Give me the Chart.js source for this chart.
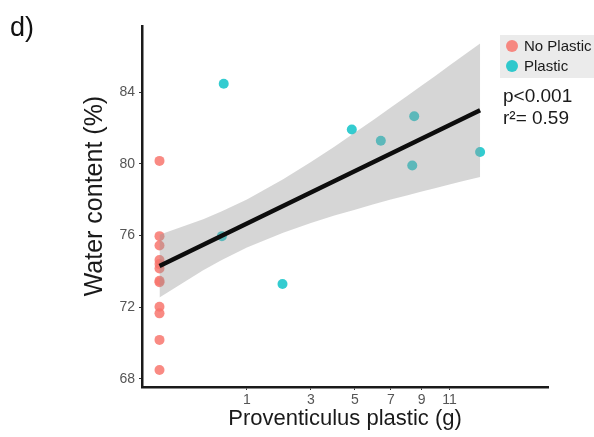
<!DOCTYPE html>
<html><head><meta charset="utf-8">
<script src="https://cdn.jsdelivr.net/npm/chart.js@4.4.0/dist/chart.umd.min.js"></script>
<style>html,body{margin:0;padding:0;background:#fff}canvas{display:block}</style>
</head><body>
<canvas id="c" width="594" height="437"></canvas>
<script>
// ---- data ----
const panelLabel = 'd)';
const seriesNames = ['No Plastic', 'Plastic'];
const noPlasticX = [0, 0, 0, 0, 0, 0, 0, 0, 0, 0, 0, 0];
const noPlasticY = [80.17, 75.97, 75.45, 74.64, 74.41, 74.17, 73.48, 73.40, 72.03, 71.66, 70.18, 68.50];
const plasticX = [0.54, 0.51, 1.98, 4.84, 6.41, 8.49, 8.36, 13.45];
const plasticY = [84.48, 75.97, 73.30, 81.92, 81.29, 82.66, 79.91, 80.67];
const fitX = [0, 13.45];
const fitY = [74.3, 83.0];
const bandX = [0, 0.25, 0.5, 1, 2, 3, 4, 5, 6, 7, 8, 9, 10, 11, 12, 13.45];
const bandUpper = [76.05, 76.92, 77.34, 78.01, 79.14, 80.11, 80.96, 81.75, 82.47, 83.15, 83.78, 84.38, 84.94, 85.49, 86.01, 86.73];
const bandLower = [72.55, 74.06, 74.62, 75.33, 76.16, 76.71, 77.12, 77.45, 77.75, 78.01, 78.24, 78.46, 78.66, 78.85, 79.03, 79.27];
const xTicks = [1, 3, 5, 7, 9, 11];
const yTicks = [68, 72, 76, 80, 84];
const statLines = ['p<0.001', 'r\u00B2= 0.59'];

const F = "'Liberation Sans', Arial, sans-serif";
const colNo = 'rgba(248,118,109,0.85)';
const colPl = 'rgba(0,191,196,0.8)';

// square-root x scale
const tr = v => Math.sign(v) * Math.sqrt(Math.abs(v));
const inv = t => Math.sign(t) * t * t;
class SqrtScale extends Chart.LinearScale {
  getPixelForValue(value) {
    if (value === null || value === undefined) return NaN;
    const a = tr(this.min), b = tr(this.max);
    return this.getPixelForDecimal((tr(value) - a) / (b - a));
  }
  getValueForPixel(pixel) {
    const a = tr(this.min), b = tr(this.max);
    return inv(a + this.getDecimalForPixel(pixel) * (b - a));
  }
}
SqrtScale.id = 'sqrt';
SqrtScale.defaults = Chart.LinearScale.defaults;
Chart.register(SqrtScale);

const pts = (xs, ys) => xs.map((x, i) => ({x, y: ys[i]}));

const deco = {
  id: 'deco',
  afterDraw(chart) {
    const ctx = chart.ctx;
    ctx.save();
    ctx.fillStyle = '#111';
    ctx.textBaseline = 'alphabetic';
    ctx.textAlign = 'left';
    ctx.font = `27px ${F}`;
    ctx.fillText(panelLabel, 10, 36);
    // legend
    ctx.fillStyle = '#ebebeb';
    ctx.fillRect(500, 35, 94, 43);
    const cols = [colNo, colPl];
    ctx.font = `15px ${F}`;
    seriesNames.forEach((n, i) => {
      const cy = 46 + i * 20;
      ctx.fillStyle = cols[i];
      ctx.beginPath(); ctx.arc(512, cy, 6, 0, Math.PI * 2); ctx.fill();
      ctx.fillStyle = '#1a1a1a';
      ctx.fillText(n, 524, cy + 5);
    });
    // stats
    ctx.font = `19px ${F}`;
    ctx.fillStyle = '#1a1a1a';
    ctx.fillText(statLines[0], 503, 102);
    ctx.fillText(statLines[1], 503, 124);
    ctx.restore();
  }
};

new Chart(document.getElementById('c'), {
  type: 'scatter',
  data: {
    datasets: [
      {type: 'line', label: 'fit', data: pts(fitX, fitY), borderColor: '#0d0d0d', borderWidth: 4.5,
       pointRadius: 0, fill: false, order: 0, borderCapStyle: 'butt'},
      {type: 'line', label: 'upper', data: pts(bandX, bandUpper), borderWidth: 0, borderColor: 'rgba(0,0,0,0)',
       pointRadius: 0, fill: '+1', backgroundColor: 'rgba(153,153,153,0.4)', order: 1},
      {type: 'line', label: 'lower', data: pts(bandX, bandLower), borderWidth: 0, borderColor: 'rgba(0,0,0,0)',
       pointRadius: 0, fill: false, order: 1},
      {type: 'scatter', label: seriesNames[0], data: pts(noPlasticX, noPlasticY), backgroundColor: colNo,
       borderWidth: 0, pointRadius: 5, order: 2},
      {type: 'scatter', label: seriesNames[1], data: pts(plasticX, plasticY), backgroundColor: colPl,
       borderWidth: 0, pointRadius: 5, order: 2}
    ]
  },
  options: {
    responsive: false, animation: false, devicePixelRatio: 1,
    layout: {padding: {left: 0, right: 46, top: 26, bottom: 0}},
    plugins: {legend: {display: false}, tooltip: {enabled: false}},
    scales: {
      x: {
        type: 'sqrt', min: -0.04, max: 19.75,
        afterBuildTicks: s => { s.ticks = xTicks.map(v => ({value: v})); },
        afterFit: s => { s.height = 50; },
        border: {display: true, color: '#1a1a1a', width: 2.5},
        grid: {display: true, drawOnChartArea: false, drawTicks: true, tickLength: 3, tickColor: '#333', color: '#333'},
        ticks: {color: '#555', font: {size: 14, family: F}, padding: 2, maxRotation: 0, autoSkip: false,
                callback: v => String(v)},
        title: {display: true, text: 'Proventiculus plastic (g)', color: '#1a1a1a',
                font: {size: 22, family: F}, padding: {top: 0, bottom: 5}}
      },
      y: {
        min: 67.55, max: 87.7,
        afterBuildTicks: s => { s.ticks = yTicks.map(v => ({value: v})); },
        afterFit: s => { s.width = 142; },
        border: {display: true, color: '#1a1a1a', width: 2.5},
        grid: {display: true, drawOnChartArea: false, drawTicks: true, tickLength: 3, tickColor: '#333', color: '#333'},
        ticks: {color: '#555', font: {size: 14, family: F}, padding: 4, autoSkip: false, callback: v => String(v)},
        title: {display: true, text: '   Water content (%)', color: '#1a1a1a',
                font: {size: 25, family: F}, padding: {top: 80, bottom: 0}}
      }
    }
  },
  plugins: [deco]
});
</script>
</body></html>
